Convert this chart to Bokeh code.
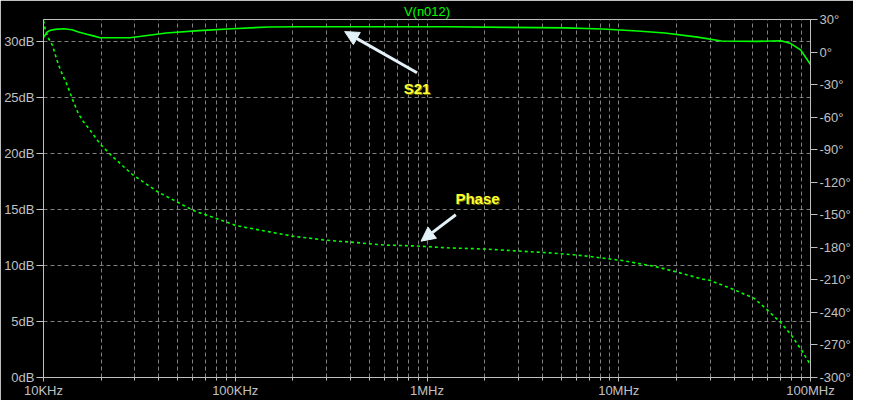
from bokeh.plotting import figure
from bokeh.models import (Range1d, LinearAxis, FixedTicker, Label, Arrow,
                          NormalHead)
from bokeh.embed import file_html
from bokeh.resources import INLINE

# ---- data ----
mag_freq = [10000, 10450, 10870, 11535, 12730, 14070, 15220, 16820, 18200,
            19700, 28200, 43700, 64700, 95900, 149000, 213000, 1270000,
            5290000, 8220000, 12500000, 17400000, 25800000, 34300000,
            52600000, 70000000, 78900000, 88800000, 100000000]
mag_db = [30.35, 30.84, 30.99, 31.07, 31.13, 31.04, 30.84, 30.64, 30.49,
          30.32, 30.32, 30.75, 30.96, 31.13, 31.28, 31.3, 31.3,
          31.2, 31.1, 30.93, 30.75, 30.38, 30.03,
          30.0, 30.06, 29.8, 29.24, 27.94]

ph_freq = [10000, 10240, 10610, 11130, 11530, 11960, 12540, 13300, 14120,
           15170, 16050, 17920, 19700, 23000, 29180, 39770, 51050, 61030,
           80240, 100600, 137100, 200600, 297100, 400000, 599600, 887900,
           1315000, 1970000, 2919000, 4322000, 5820000, 6958000, 10430000,
           15440000, 20300000, 27340000, 29720000, 38600000, 50760000,
           59240000, 69980000, 79760000, 89850000, 100000000]
ph_deg = [29, 19.8, 12.7, 6.4, -2.6, -11.6, -20.6, -30.5, -43.0,
          -56.5, -63.5, -74.5, -84.6, -96.7, -113.1, -129.3, -139.2, -146.4,
          -153.6, -159.9, -164.4, -169.8, -173.4, -175.2, -177.9, -178.8,
          -180.6, -181.5, -183.3, -185.1, -186.9, -188.3, -192.2,
          -197.6, -203.0, -209.3, -210.4, -218.0, -227.0,
          -237.4, -249.4, -261.4, -274.9, -288.3]

x_decades = [1e4, 1e5, 1e6, 1e7, 1e8]
x_labels = ["10KHz", "100KHz", "1MHz", "10MHz", "100MHz"]
db_ticks = [0, 5, 10, 15, 20, 25, 30]
deg_ticks = [-300, -270, -240, -210, -180, -150, -120, -90, -60, -30, 0, 30]

title_text = "V(n012)"
s21_text = "S21"
phase_text = "Phase"

# ---- styling ----
GREEN = "#00ff00"
AX = "#c0c0c0"
GRID = "#808080"
FONT = "Liberation Sans"
FS = "13px"

p = figure(width=853, height=400, x_axis_type="log",
           x_range=Range1d(1e4, 1e8), y_range=Range1d(0, 31.95),
           output_backend="svg", toolbar_location=None,
           background_fill_color="black", border_fill_color="black",
           min_border_left=43, min_border_right=40, min_border_top=4,
           min_border_bottom=19)
p.outline_line_color = AX
p.extra_y_ranges = {"phase": Range1d(-300, 30)}

# title
p.title.text = title_text
p.title.align = "center"
p.title.text_color = GREEN
p.title.text_font = FONT
p.title.text_font_size = FS
p.title.text_font_style = "normal"
p.title.standoff = 2
p.title.offset = 0

minor = [k * d for d in x_decades[:-1] for k in range(2, 10)]
xt = FixedTicker(ticks=x_decades, minor_ticks=minor)
p.xaxis.ticker = xt
p.xgrid.ticker = xt
p.xaxis.major_label_overrides = {d: l for d, l in zip(x_decades, x_labels)}

yt = FixedTicker(ticks=db_ticks)
p.yaxis.ticker = yt
p.ygrid.ticker = yt
p.yaxis.major_label_overrides = {t: f"{t}dB" for t in db_ticks}

rax = LinearAxis(y_range_name="phase", ticker=FixedTicker(ticks=deg_ticks))
rax.major_label_overrides = {t: f"{t}°" for t in deg_ticks}
p.add_layout(rax, "right")

for ax in [p.xaxis[0], p.yaxis[0], rax]:
    ax.axis_line_color = AX
    ax.major_tick_line_color = AX
    ax.minor_tick_line_color = AX
    ax.major_label_text_color = AX
    ax.major_label_text_font = FONT
    ax.major_label_text_font_size = FS
    ax.major_tick_in = 0
    ax.minor_tick_in = 0
p.xaxis.major_tick_out = 4
p.xaxis.minor_tick_out = 3
p.xaxis.major_label_standoff = 1
for ax in [p.yaxis[0], rax]:
    ax.major_tick_out = 7
    ax.minor_tick_line_color = None
    ax.major_label_standoff = 2

for g in [p.xgrid[0], p.ygrid[0]]:
    g.grid_line_color = GRID
    g.grid_line_dash = "4 3"
    g.grid_line_width = 1
p.xgrid.minor_grid_line_color = GRID
p.xgrid.minor_grid_line_dash = "4 3"

# curves
p.line(mag_freq, mag_db, line_color=GREEN, line_width=1.6)
p.line(ph_freq, ph_deg, y_range_name="phase", line_color=GREEN,
       line_width=1.6, line_dash="3 3")

# annotations
ARROW = "#e2f2f8"
p.add_layout(Arrow(x_start=887000, y_start=27.2, x_end=372000, y_end=30.87,
                   line_color=ARROW, line_width=3,
                   end=NormalHead(size=14, fill_color=ARROW, line_color=ARROW)))
p.add_layout(Arrow(x_start=1413000, y_start=14.52, x_end=931000, y_end=12.17,
                   line_color=ARROW, line_width=3,
                   end=NormalHead(size=14, fill_color=ARROW, line_color=ARROW)))
for txt, xx, yy in [(s21_text, 887000, 25.8), (phase_text, 1834000, 16.0)]:
    p.add_layout(Label(x=xx, y=yy, text=txt, text_color="#6a6a00",
                       text_font=FONT, text_font_size="15px",
                       text_font_style="bold", text_align="center",
                       text_baseline="middle", x_offset=1, y_offset=-1))
    p.add_layout(Label(x=xx, y=yy, text=txt, text_color="#ffff30",
                       text_font=FONT, text_font_size="15px",
                       text_font_style="bold", text_align="center",
                       text_baseline="middle"))

open("out.html", "w").write(file_html(p, INLINE))
